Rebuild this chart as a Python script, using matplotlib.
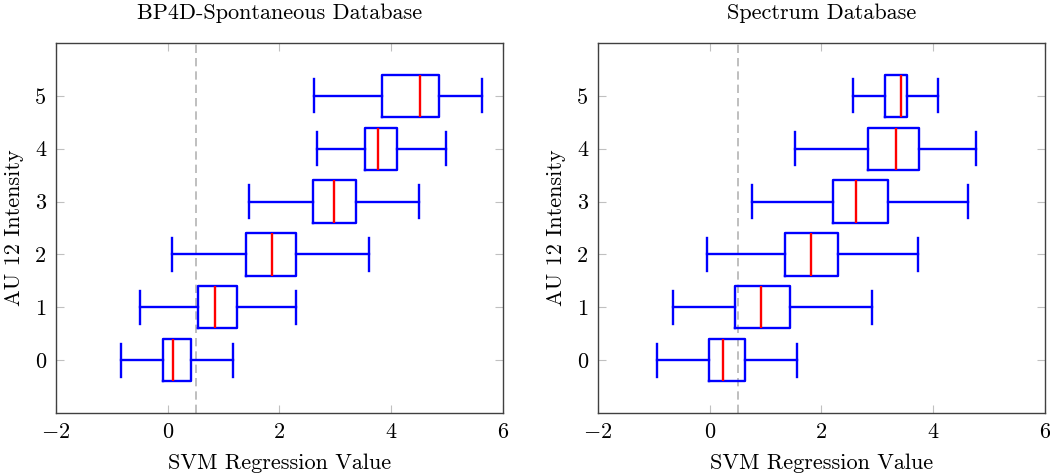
import matplotlib
matplotlib.use("Agg")
import matplotlib.pyplot as plt

plt.rcParams['font.family'] = 'serif'
plt.rcParams['font.serif'] = ['cmr10']
plt.rcParams['mathtext.fontset'] = 'cm'
plt.rcParams['axes.formatter.use_mathtext'] = True

intensity = [0, 1, 2, 3, 4, 5]

# BP4D-Spontaneous: whisker low, q1, median, q3, whisker high per intensity
bp4d_lo = [-0.84, -0.49, 0.08, 1.46, 2.67, 2.62]
bp4d_q1 = [-0.08, 0.54, 1.40, 2.60, 3.53, 3.84]
bp4d_med = [0.10, 0.85, 1.87, 2.97, 3.77, 4.51]
bp4d_q3 = [0.42, 1.24, 2.30, 3.37, 4.11, 4.85]
bp4d_hi = [1.16, 2.29, 3.60, 4.50, 4.98, 5.63]

# Spectrum
spec_lo = [-0.95, -0.66, -0.05, 0.75, 1.53, 2.57]
spec_q1 = [-0.01, 0.46, 1.34, 2.21, 2.84, 3.14]
spec_med = [0.24, 0.92, 1.81, 2.62, 3.33, 3.43]
spec_q3 = [0.63, 1.44, 2.30, 3.19, 3.74, 3.53]
spec_hi = [1.57, 2.91, 3.73, 4.63, 4.76, 4.08]

threshold = 0.5

fig = plt.figure(figsize=(10.5, 4.75), dpi=100)
ax1 = fig.add_axes([0.0533, 0.1305, 0.4257, 0.779])
ax2 = fig.add_axes([0.5695, 0.1305, 0.4257, 0.779])

panels = [
    (ax1, "BP4D-Spontaneous Database", bp4d_lo, bp4d_q1, bp4d_med, bp4d_q3, bp4d_hi),
    (ax2, "Spectrum Database", spec_lo, spec_q1, spec_med, spec_q3, spec_hi),
]

blue = dict(color=(0, 0, 1), linewidth=1.7)
for ax, title, lo, q1, med, q3, hi in panels:
    stats = [dict(whislo=a, q1=b, med=c, q3=d, whishi=e, fliers=[])
             for a, b, c, d, e in zip(lo, q1, med, q3, hi)]
    ax.bxp(stats, positions=intensity, widths=0.8, capwidths=0.63,
           orientation='horizontal', showfliers=False,
           boxprops=blue, whiskerprops=blue, capprops=blue,
           medianprops=dict(color=(1, 0, 0), linewidth=1.7))
    ax.axvline(threshold, color='#b4b4b4', linewidth=1.2, dashes=(5, 3), zorder=0)
    ax.set_xlim(-2, 6)
    ax.set_ylim(-1, 6)
    ax.set_xticks([-2, 0, 2, 4, 6])
    ax.set_yticks(intensity)
    ax.set_yticklabels([str(v) for v in intensity])
    ax.tick_params(direction='in', length=6, color='#c0c0c0', labelsize=16,
                   top=True, right=True, pad=7)
    for s in ax.spines.values():
        s.set_color('#404040')
        s.set_linewidth(1.0)
    ax.set_title(title, fontsize=16, pad=17)
    ax.set_xlabel("SVM Regression Value", fontsize=16, labelpad=8)
    ax.set_ylabel("AU 12 Intensity", fontsize=16, labelpad=8)

fig.savefig("out.png", dpi=100)
